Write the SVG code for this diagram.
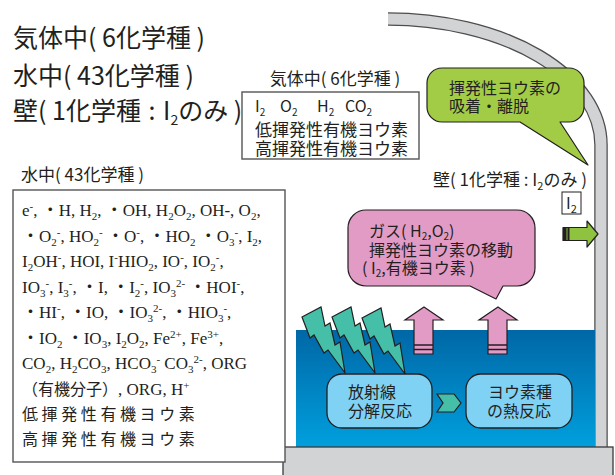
<svg xmlns="http://www.w3.org/2000/svg" width="615" height="475" viewBox="0 0 615 475">
  <defs>
    <style>
      .jp { font-family: "Noto Sans CJK JP", "Noto Sans", sans-serif; fill: #231f20; }
      .serif { font-family: "Liberation Serif", "Noto Sans CJK JP", serif; font-size: 17px; fill: #231f20; }
      .cj { font-family: "Noto Sans CJK JP", sans-serif; }
      .sb { font-size: 11px; baseline-shift: -4px; }
      .sp { font-size: 11px; baseline-shift: 6px; }
      .sb2 { font-size: 10px; baseline-shift: -4px; }
      .box { fill: #ffffff; stroke: #555555; stroke-width: 1.4; }
      .outline { stroke: #231f20; stroke-width: 1.2; stroke-linejoin: round; }
      .bolt { fill: #46bfa8; stroke: #231f20; stroke-width: 1.2; stroke-linejoin: miter; }
      .up { fill: #e29bc5; stroke: #231f20; stroke-width: 1.2; }
      .react { fill: #80d2f4; stroke: #231f20; stroke-width: 1.3; }
    </style>
    <linearGradient id="water" x1="0" y1="0" x2="0" y2="1">
      <stop offset="0" stop-color="#0067a6"/>
      <stop offset="1" stop-color="#00a0de"/>
    </linearGradient>
    <polygon id="boltShape" points="0,10 19,0 23,19 28,16 33,38 38,35 43,66 26,43 22,46 12,28 8,31"/>
  </defs>

  <!-- vessel wall: curved roof running down the right side -->
  <g id="wall">
    <path d="M388,19 A213,126 0 0 1 601,145 L601,452" fill="none" stroke="#4d4d4f" stroke-width="13.5"/>
    <path d="M388,19 A213,126 0 0 1 601,145 L601,452" fill="none" stroke="#d1d3d4" stroke-width="11"/>
  </g>

  <!-- water pool -->
  <rect id="water-pool" x="296" y="330" width="299" height="118" fill="url(#water)"/>

  <!-- base plate -->
  <rect id="base" x="283" y="447" width="330" height="35" fill="#d1d3d4" stroke="#3a3a3c" stroke-width="1.3"/>

  <!-- headline summary -->
  <g id="summary" class="jp" font-size="25">
    <text x="13" y="47">気体中( 6化学種 )</text>
    <text x="13" y="85">水中( 43化学種 )</text>
    <text x="13" y="120">壁( 1化学種 <tspan dx="2">:</tspan> <tspan dx="2">I</tspan><tspan font-size="14" baseline-shift="-5">2</tspan>のみ )</text>
  </g>

  <!-- gas phase species -->
  <g id="gas-species">
    <text class="jp" x="335" y="85" font-size="17" text-anchor="middle">気体中( 6化学種 )</text>
    <rect class="box" x="242" y="92" width="177" height="67"/>
    <g class="jp" font-size="16">
      <text x="255" y="112">I<tspan class="sb2">2</tspan></text>
      <text x="280" y="112">O<tspan class="sb2">2</tspan></text>
      <text x="317" y="112">H<tspan class="sb2">2</tspan></text>
      <text x="345" y="112">CO<tspan class="sb2">2</tspan></text>
    </g>
    <text class="jp" x="255" y="136" font-size="17">低揮発性有機ヨウ素</text>
    <text class="jp" x="255" y="155" font-size="17">高揮発性有機ヨウ素</text>
  </g>

  <!-- aqueous phase species -->
  <g id="water-species">
    <text class="jp" x="21" y="181" font-size="17">水中( 43化学種 )</text>
    <rect class="box" x="13" y="190" width="272" height="272"/>
    <g class="serif">
      <text x="22" y="216">e<tspan class="sp">-</tspan>, ・H, H<tspan class="sb">2</tspan>, ・OH, H<tspan class="sb">2</tspan>O<tspan class="sb">2</tspan>, OH-, O<tspan class="sb">2</tspan>,</text>
      <text x="22" y="241.5">・O<tspan class="sb">2</tspan><tspan class="sp">-</tspan>, HO<tspan class="sb">2</tspan><tspan class="sp">-</tspan> ・O<tspan class="sp">-</tspan>, ・HO<tspan class="sb">2</tspan> ・O<tspan class="sb">3</tspan><tspan class="sp">-</tspan>, I<tspan class="sb">2</tspan>,</text>
      <text x="22" y="267">I<tspan class="sb">2</tspan>OH<tspan class="sp">-</tspan>, HOI, I<tspan class="sp">-</tspan>HIO<tspan class="sb">2</tspan>, IO<tspan class="sp">-</tspan>, IO<tspan class="sb">2</tspan><tspan class="sp">-</tspan>,</text>
      <text x="22" y="292.5">IO<tspan class="sb">3</tspan><tspan class="sp">-</tspan>, I<tspan class="sb">3</tspan><tspan class="sp">-</tspan>, ・I, ・I<tspan class="sb">2</tspan><tspan class="sp">-</tspan>, IO<tspan class="sb">3</tspan><tspan class="sp">2-</tspan> ・HOI<tspan class="sp">-</tspan>,</text>
      <text x="22" y="318">・HI<tspan class="sp">-</tspan>, ・IO, ・IO<tspan class="sb">3</tspan><tspan class="sp">2-</tspan>, ・HIO<tspan class="sb">3</tspan><tspan class="sp">-</tspan>,</text>
      <text x="22" y="343.5">・IO<tspan class="sb">2</tspan> ・IO<tspan class="sb">3</tspan>, I<tspan class="sb">2</tspan>O<tspan class="sb">2</tspan>, Fe<tspan class="sp">2+</tspan>, Fe<tspan class="sp">3+</tspan>,</text>
      <text x="22" y="369">CO<tspan class="sb">2</tspan>, H<tspan class="sb">2</tspan>CO<tspan class="sb">3</tspan>, HCO<tspan class="sb">3</tspan><tspan class="sp">-</tspan> CO<tspan class="sb">3</tspan><tspan class="sp">2-</tspan>, ORG</text>
      <text x="22" y="394.5"><tspan class="cj" font-size="16">（有機分子）</tspan>, ORG, H<tspan class="sp">+</tspan></text>
    </g>
    <text class="jp" x="22" y="420" font-size="16" letter-spacing="3.6">低揮発性有機ヨウ素</text>
    <text class="jp" x="22" y="445" font-size="16" letter-spacing="3.6">高揮発性有機ヨウ素</text>
  </g>

  <!-- wall adsorption callout -->
  <g id="adsorption-callout">
    <path class="outline" fill="#a3cc46" d="M442,68 H569 A15,15 0 0 1 584,83 V107 A15,15 0 0 1 569,122 H560 L588,165 L520,122 H442 A15,15 0 0 1 427,107 V83 A15,15 0 0 1 442,68 Z"/>
    <text class="jp" x="449" y="94" font-size="16">揮発性ヨウ素の</text>
    <text class="jp" x="449" y="112" font-size="16">吸着・離脱</text>
  </g>

  <!-- wall species -->
  <g id="wall-species">
    <text class="jp" x="433" y="186" font-size="17">壁( 1化学種 : I<tspan font-size="11" baseline-shift="-4">2</tspan>のみ )</text>
    <rect x="562" y="192" width="19" height="22" fill="#ffffff" stroke="#231f20" stroke-width="1"/>
    <text class="jp" x="566" y="209" font-size="16">I<tspan font-size="11" baseline-shift="-4">2</tspan></text>
  </g>

  <!-- gas transfer callout -->
  <g id="gas-callout">
    <path class="outline" fill="#e29bc5" d="M366,210 H517 A18,18 0 0 1 535,228 V268 A18,18 0 0 1 517,286 H503 L496,299 L470,286 H366 A18,18 0 0 1 348,268 V228 A18,18 0 0 1 366,210 Z"/>
    <text class="jp" x="369" y="237" font-size="16">ガス( H<tspan font-size="10" baseline-shift="-3">2</tspan>,O<tspan font-size="10" baseline-shift="-3">2</tspan>)</text>
    <text class="jp" x="369" y="256" font-size="16">揮発性ヨウ素の移動</text>
    <text class="jp" x="362" y="274" font-size="16">( I<tspan font-size="10" baseline-shift="-3">2</tspan>,有機ヨウ素 )</text>
  </g>

  <!-- radiation bolts -->
  <g id="radiation">
    <use href="#boltShape" class="bolt" transform="translate(302,307)"/>
    <use href="#boltShape" class="bolt" transform="translate(332,307)"/>
    <use href="#boltShape" class="bolt" transform="translate(362,308)"/>
  </g>

  <!-- release arrows -->
  <g id="release-arrows">
    <path class="up" d="M424,307 L443,320 L433,320 L433,354 L414,354 L414,320 L405,320 Z"/>
    <path d="M414,345 H433 M414,349.5 H433" stroke="#231f20" stroke-width="1.6"/>
    <path class="up" d="M498,307 L517,320 L507,320 L507,354 L488,354 L488,320 L479,320 Z"/>
    <path d="M488,345 H507 M488,349.5 H507" stroke="#231f20" stroke-width="1.6"/>
  </g>

  <!-- adsorption arrow toward wall -->
  <g id="wall-arrow">
    <path class="outline" fill="#8fc33f" d="M563,227.5 H587 V221 L598,234 L587,247 V240.5 H563 Z"/>
    <rect x="563" y="227.5" width="3.5" height="13" fill="#231f20"/>
    <rect x="567.5" y="227.5" width="2" height="13" fill="#231f20"/>
  </g>

  <!-- reactions in water -->
  <g id="radiolysis">
    <rect class="react" x="327" y="374" width="105" height="54" rx="15"/>
    <text class="jp" x="348" y="398" font-size="16">放射線</text>
    <text class="jp" x="348" y="417" font-size="16">分解反応</text>
  </g>
  <g id="thermal-reaction">
    <rect class="react" x="466" y="374" width="106" height="54" rx="15"/>
    <text class="jp" x="488" y="398" font-size="16">ヨウ素種</text>
    <text class="jp" x="487" y="417" font-size="16">の熱反応</text>
  </g>
  <g id="connectors">
    <path class="bolt" d="M437,394 H454 L461,403 L454,412 H437 L443,403 Z"/>
  </g>
</svg>
